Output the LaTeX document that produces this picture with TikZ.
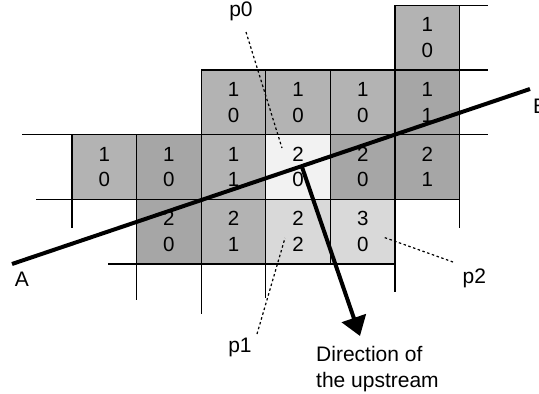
\documentclass[tikz,border=0pt]{standalone}
\usepackage{fontspec}
\setmainfont{Liberation Sans}
\usetikzlibrary{arrows.meta}
\definecolor{gA}{HTML}{B3B3B3}
\definecolor{gB}{HTML}{A6A6A6}
\definecolor{gC}{HTML}{F2F2F2}
\definecolor{gD}{HTML}{D9D9D9}
\tikzset{
  cell/.style={draw=black, line width=1.3pt, minimum width=64.6pt, minimum height=64.6pt,
    inner sep=0pt, align=center, font=\fontsize{20.5}{25.6}\selectfont},
  gridline/.style={line width=1.3pt},
  lbl/.style={inner sep=0pt, font=\fontsize{21}{25.6}\selectfont},
  leader/.style={line width=1.2pt, dash pattern=on 2.5pt off 2.5pt},
  heavy/.style={line width=4pt},
}
\begin{document}
\begin{tikzpicture}[x=1pt,y=-1pt]
\useasboundingbox (0,0) rectangle (539,394);
% cells: columns centres 104.3,168.9,233.5,298.1,362.7,427.3 ; rows 37.8,102.4,167,231.6
\node[cell, fill=gA] (c05) at (427.3,37.8) {1\\0};
\node[cell, fill=gA] (c12) at (233.5,102.4) {1\\0};
\node[cell, fill=gA] (c13) at (298.1,102.4) {1\\0};
\node[cell, fill=gA] (c14) at (362.7,102.4) {1\\0};
\node[cell, fill=gB] (c15) at (427.3,102.4) {1\\1};
\node[cell, fill=gA] (c20) at (104.3,167) {1\\0};
\node[cell, fill=gB] (c21) at (168.9,167) {1\\0};
\node[cell, fill=gA] (c22) at (233.5,167) {1\\1};
\node[cell, fill=gC] (c23) at (298.1,167) {2\\0};
\node[cell, fill=gB] (c24) at (362.7,167) {2\\0};
\node[cell, fill=gB] (c25) at (427.3,167) {2\\1};
\node[cell, fill=gB] (c31) at (168.9,231.6) {2\\0};
\node[cell, fill=gA] (c32) at (233.5,231.6) {2\\1};
\node[cell, fill=gD] (c33) at (298.1,231.6) {2\\2};
\node[cell, fill=gD] (c34) at (362.7,231.6) {3\\0};
% extra grid lines
\draw[gridline] (395,5.5) -- (488,5.5);
\draw[gridline] (201.2,70.1) -- (488,70.1);
\draw[gridline] (22,134.7) -- (488,134.7);
\draw[gridline] (36,199.3) -- (459.6,199.3);
\draw[gridline] (108,263.9) -- (395,263.9);
\draw[gridline] (72,199.3) -- (72,228);
\draw[gridline] (136.6,263.9) -- (136.6,300);
\draw[gridline] (201.2,263.9) -- (201.2,314);
\draw[gridline] (265.8,263.9) -- (265.8,298);
\draw[gridline] (395,263.9) -- (395,292);
\draw[gridline] (459.6,199.3) -- (459.6,228);
% line A-B
\coordinate (Aend) at (12,264);
\coordinate (Bend) at (530,89);
\draw[heavy] (Aend) -- (Bend);
\node[lbl, anchor=base] (A) at (22,286) {A};
\node[lbl, anchor=base west] (B) at (533,113.3) {B};
% upstream arrow
\coordinate (arrS) at (302,167);
\coordinate (arrT) at (360,336);
\draw[heavy, -{Triangle[length=19pt,width=25pt]}] (arrS) -- (arrT);
\node[lbl, anchor=north west, align=left] (dir) at (316,346.5) {Direction of\\the upstream};
% leaders
\node[lbl, anchor=base] (p0) at (241,16.7) {p0};
\node[lbl, anchor=base] (p1) at (240,352.7) {p1};
\node[lbl, anchor=base] (p2) at (474.3,283.3) {p2};
\coordinate (p0a) at (246,32);
\coordinate (p0b) at (282,148);
\coordinate (p1a) at (257,334);
\coordinate (p1b) at (285,238);
\coordinate (p2a) at (453,262);
\coordinate (p2b) at (383,237);
\draw[leader] (p0a) -- (p0b);
\draw[leader] (p1a) -- (p1b);
\draw[leader] (p2a) -- (p2b);
\end{tikzpicture}
\end{document}
